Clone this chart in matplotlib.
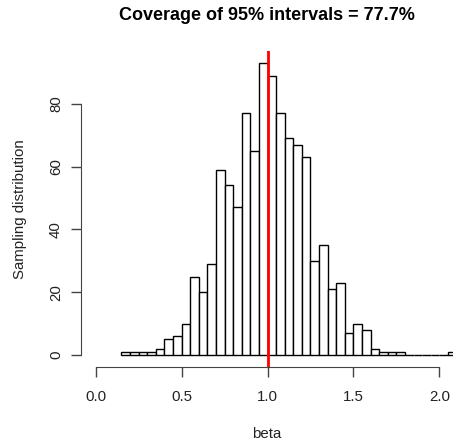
import numpy as np
import matplotlib
matplotlib.use("Agg")
import matplotlib.pyplot as plt

# Histogram data (bin edges every 0.05 from 0.15 to 2.05)
bin_start = 0.15
bin_width = 0.05
counts = [1, 1, 1, 1, 2, 5, 6, 10, 25, 20, 29, 59, 54, 47, 77, 65, 93, 89,
          77, 69, 67, 63, 30, 35, 21, 23, 7, 10, 8, 2, 1, 1, 1,
          0, 0, 0, 0, 0, 1]
true_beta = 1.0
x_ticks = [0.0, 0.5, 1.0, 1.5, 2.0]
x_tick_labels = ["0.0", "0.5", "1.0", "1.5", "2.0"]
y_ticks = [0, 20, 40, 60, 80]
title = "Coverage of 95% intervals = 77.7%"
xlabel = "beta"
ylabel = "Sampling distribution"

plt.rcParams['font.family'] = ['Liberation Sans', 'DejaVu Sans']

W, H = 454, 444
fig = plt.figure(figsize=(W / 100, H / 100), dpi=100)
left_px, right_px, top_px, bot_px = 81, 453, 51.3, 366.7
ax = fig.add_axes([left_px / W, 1 - bot_px / H, (right_px - left_px) / W, (bot_px - top_px) / H])

edges = bin_start + bin_width * np.arange(len(counts) + 1)
ax.bar(edges[:-1], counts, width=bin_width, align='edge', facecolor='white',
       edgecolor='black', linewidth=1.0)
ax.axvline(true_beta, color='red', linewidth=2)

# x scale: 0 at px 95.7, 2 at px 439.3
px_per_unit = (439.3 - 95.7) / 2.0
ax.set_xlim(-(95.7 - left_px) / px_per_unit, (right_px - 95.7) / px_per_unit)
ax.set_ylim(-3.72, 96.72)

for s in ['top', 'right']:
    ax.spines[s].set_visible(False)
ax.spines['left'].set_bounds(0, 80)
ax.spines['bottom'].set_bounds(0, 2.0)
ax.spines['left'].set_color('#444444')
ax.spines['bottom'].set_color('#444444')

ax.set_xticks(x_ticks)
ax.set_xticklabels(x_tick_labels)
ax.set_yticks(y_ticks)
ax.set_yticklabels([str(v) for v in y_ticks], rotation=90, va='center')
ax.tick_params(axis='both', length=7, width=1, color='#444444', labelsize=10.8,
               labelcolor='#222222')
ax.tick_params(axis='x', pad=10)
ax.tick_params(axis='y', pad=6)

ax.set_xlabel(xlabel, fontsize=10.8, color='#222222', labelpad=16)
ax.set_ylabel(ylabel, fontsize=10.8, color='#222222', labelpad=16)
fig.text((left_px + right_px) / 2 / W, 1 - 15 / H, title, ha='center', va='center',
         fontsize=13, fontweight='bold')

fig.savefig("out.png", dpi=100)
